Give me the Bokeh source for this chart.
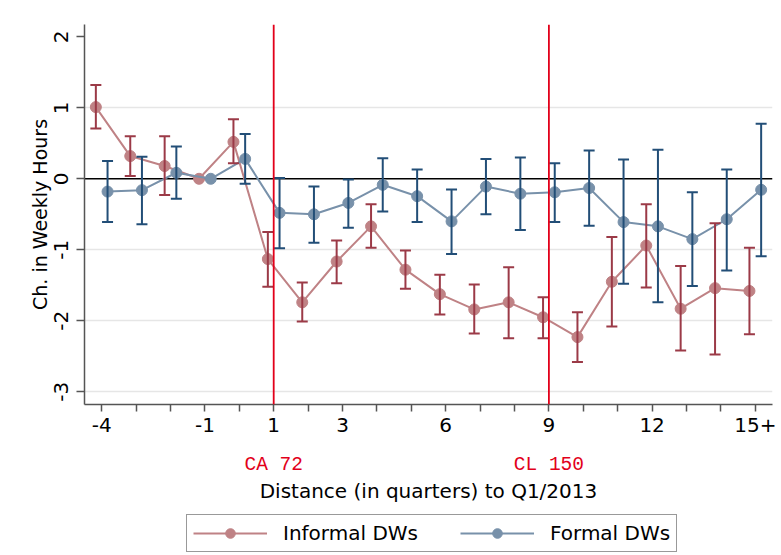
from bokeh.plotting import figure
from bokeh.models import (ColumnDataSource, Whisker, TeeHead, Span, FixedTicker,
                          LinearAxis, Legend, LegendItem, Range1d)
from bokeh.layouts import column
from bokeh.transform import dodge
from bokeh.core.properties import value
from bokeh.embed import file_html
from bokeh.resources import INLINE

nan = float("nan")

# ---------------- data ----------------
quarters = list(range(-4, 16))

informal = [1.01, 0.32, 0.18, 0.00, 0.52, -1.13, -1.74, -1.165, -0.67, -1.28,
            -1.625, -1.84, -1.74, -1.95, -2.23, -1.45, -0.94, -1.83, -1.54, -1.58]
informal_hi = [1.32, 0.60, 0.60, nan, 0.84, -0.75, -1.46, -0.87, -0.36, -1.01,
               -1.35, -1.49, -1.245, -1.67, -1.88, -0.82, -0.36, -1.23, -0.625, -0.97]
informal_lo = [0.71, 0.04, -0.23, nan, 0.22, -1.52, -2.01, -1.47, -0.97, -1.55,
               -1.91, -2.18, -2.245, -2.245, -2.58, -2.08, -1.53, -2.42, -2.475, -2.19]

formal = [-0.18, -0.16, 0.085, 0.00, 0.28, -0.48, -0.50, -0.34, -0.085, -0.245,
          -0.60, -0.11, -0.21, -0.19, -0.13, -0.61, -0.67, -0.85, -0.57, -0.155]
formal_hi = [0.25, 0.31, 0.455, nan, 0.63, 0.01, -0.11, -0.01, 0.29, 0.13,
             -0.15, 0.28, 0.30, 0.22, 0.40, 0.27, 0.41, -0.19, 0.13, 0.775]
formal_lo = [-0.61, -0.64, -0.28, nan, -0.07, -0.98, -0.90, -0.69, -0.46, -0.61,
             -1.06, -0.50, -0.72, -0.61, -0.66, -1.48, -1.74, -1.51, -1.29, -1.09]

labeled_ticks = [-4, -1, 1, 3, 6, 9, 12, 15]
tick_labels = ["-4", "-1", "1", "3", "6", "9", "12", "15+"]
y_ticks = [-3, -2, -1, 0, 1, 2]
y_tick_labels = ["-3", "-2", "-1", "0", "1", "2"]

event_quarters = [1, 9]
event_labels = ["CA 72", "CL 150"]

series_names = ["Informal DWs", "Formal DWs"]
x_title = "Distance (in quarters) to Q1/2013"
y_title = "Ch. in Weekly Hours"

# ---------------- styles ----------------
INF_MARK = "#bf8285"
INF_BAR = "#9b3a47"
FOR_MARK = "#7891aa"
FOR_BAR = "#224e77"
EVENT_RED = "#e2001a"
AXIS_GRAY = "#555555"
FONT = "DejaVu Sans"

src_inf = ColumnDataSource(dict(q=quarters, y=informal))
src_for = ColumnDataSource(dict(q=quarters, y=formal))
keep_i = [i for i in range(len(quarters)) if informal_hi[i] == informal_hi[i]]
keep_f = [i for i in range(len(quarters)) if formal_hi[i] == formal_hi[i]]
src_inf_ci = ColumnDataSource(dict(q=[quarters[i] for i in keep_i],
                                   hi=[informal_hi[i] for i in keep_i],
                                   lo=[informal_lo[i] for i in keep_i]))
src_for_ci = ColumnDataSource(dict(q=[quarters[i] for i in keep_f],
                                   hi=[formal_hi[i] for i in keep_f],
                                   lo=[formal_lo[i] for i in keep_f]))

p = figure(frame_width=688, frame_height=380, x_range=Range1d(-4.5, 15.5),
           y_range=Range1d(-3.179, 2.173), output_backend="svg",
           toolbar_location=None, min_border_left=84, min_border_right=5,
           min_border_top=24, min_border_bottom=110)
p.outline_line_color = None
p.background_fill_color = "white"
p.border_fill_color = "white"

# grid
p.xgrid.visible = False
p.ygrid.ticker = FixedTicker(ticks=[t for t in y_ticks if t not in (0, 2)])
p.ygrid.grid_line_color = "#e6e6e6"
p.ygrid.grid_line_width = 1.5

# zero line
p.add_layout(Span(location=0, dimension="width", line_color="black",
                  line_width=1.6, level="underlay"))

OFF = 0.17
# error bars
for src, col, off in [(src_inf_ci, INF_BAR, -OFF), (src_for_ci, FOR_BAR, OFF)]:
    w = Whisker(source=src, base=dodge("q", off), upper="hi", lower="lo",
                dimension="height", line_color=col, line_width=2,
                upper_head=TeeHead(size=11, line_color=col, line_width=2),
                lower_head=TeeHead(size=11, line_color=col, line_width=2),
                level="glyph")
    p.add_layout(w)

p.line(dodge("q", -OFF), "y", source=src_inf, line_color=INF_MARK, line_width=2)
p.scatter(dodge("q", -OFF), "y", source=src_inf, size=11, fill_color=INF_MARK,
          line_color=INF_MARK)
p.line(dodge("q", OFF), "y", source=src_for, line_color=FOR_MARK, line_width=2)
p.scatter(dodge("q", OFF), "y", source=src_for, size=11, fill_color=FOR_MARK,
          line_color=FOR_MARK)

for q in event_quarters:
    p.add_layout(Span(location=q, dimension="height", line_color=EVENT_RED,
                      line_width=1.8, level="annotation"))

# y axis
ya = p.yaxis[0]
ya.ticker = FixedTicker(ticks=y_ticks)
ya.major_label_overrides = dict(zip(y_ticks, y_tick_labels))
ya.major_label_orientation = "vertical"
ya.major_label_text_font = FONT
ya.major_label_text_font_size = "20px"
ya.major_label_text_color = "black"
ya.major_label_standoff = 8
ya.major_tick_out = 8
ya.major_tick_in = 0
ya.minor_tick_line_color = None
ya.axis_line_color = AXIS_GRAY
ya.axis_line_width = 1.5
ya.major_tick_line_color = AXIS_GRAY
ya.major_tick_line_width = 1.5
ya.axis_label = y_title
ya.axis_label_text_font = FONT
ya.axis_label_text_font_size = "19px"
ya.axis_label_text_font_style = "normal"
ya.axis_label_text_color = "black"
ya.axis_label_standoff = 1

# x axis
xa = p.xaxis[0]
xa.ticker = FixedTicker(ticks=quarters)
overrides = {q: "" for q in quarters}
for q, lab in zip(labeled_ticks, tick_labels):
    overrides[q] = lab
xa.major_label_overrides = overrides
xa.major_label_text_font = FONT
xa.major_label_text_font_size = "20px"
xa.major_label_text_color = "black"
xa.major_label_standoff = 6
xa.major_tick_out = 7
xa.major_tick_in = 0
xa.minor_tick_line_color = None
xa.axis_line_color = AXIS_GRAY
xa.axis_line_width = 1.5
xa.major_tick_line_color = AXIS_GRAY
xa.major_tick_line_width = 1.5

# event annotation axis
ea = LinearAxis(ticker=FixedTicker(ticks=event_quarters),
                major_label_overrides=dict(zip(event_quarters, event_labels)),
                axis_line_color=None, major_tick_line_color=None,
                minor_tick_line_color=None, major_tick_out=0, major_tick_in=0,
                major_label_standoff=19,
                major_label_text_font="Liberation Mono",
                major_label_text_font_size="19.5px",
                major_label_text_color=EVENT_RED,
                axis_label=x_title, axis_label_text_font=FONT,
                axis_label_text_font_size="20px", axis_label_text_font_style="normal",
                axis_label_text_color="black", axis_label_standoff=0)
p.add_layout(ea, "below")

# ---------------- legend strip (same series, ranges kept off the data) ----------------
pl = figure(width=777, height=41, x_range=Range1d(1000, 1001), y_range=Range1d(1000, 1001),
            output_backend="svg", toolbar_location=None, x_axis_type=None,
            y_axis_type=None, min_border=0)
pl.outline_line_color = None
pl.xgrid.visible = False
pl.ygrid.visible = False
la = pl.line("q", "y", source=src_inf, line_color=INF_MARK, line_width=2)
sa = pl.scatter("q", "y", source=src_inf, size=11, fill_color=INF_MARK, line_color=INF_MARK)
lb = pl.line("q", "y", source=src_for, line_color=FOR_MARK, line_width=2)
sb = pl.scatter("q", "y", source=src_for, size=11, fill_color=FOR_MARK, line_color=FOR_MARK)

legend = Legend(items=[LegendItem(label=series_names[0], renderers=[la, sa]),
                       LegendItem(label=series_names[1], renderers=[lb, sb])],
                orientation="horizontal", location=(102, 3),
                glyph_width=74, glyph_height=24, label_standoff=16, spacing=42,
                padding=6, margin=0, label_text_font=FONT,
                label_text_font_size="20px", label_text_color="black",
                border_line_color="#333333", border_line_width=1,
                background_fill_color="white")
pl.add_layout(legend, "center")

open("out.html", "w").write(file_html(column(p, pl, spacing=0), INLINE))
